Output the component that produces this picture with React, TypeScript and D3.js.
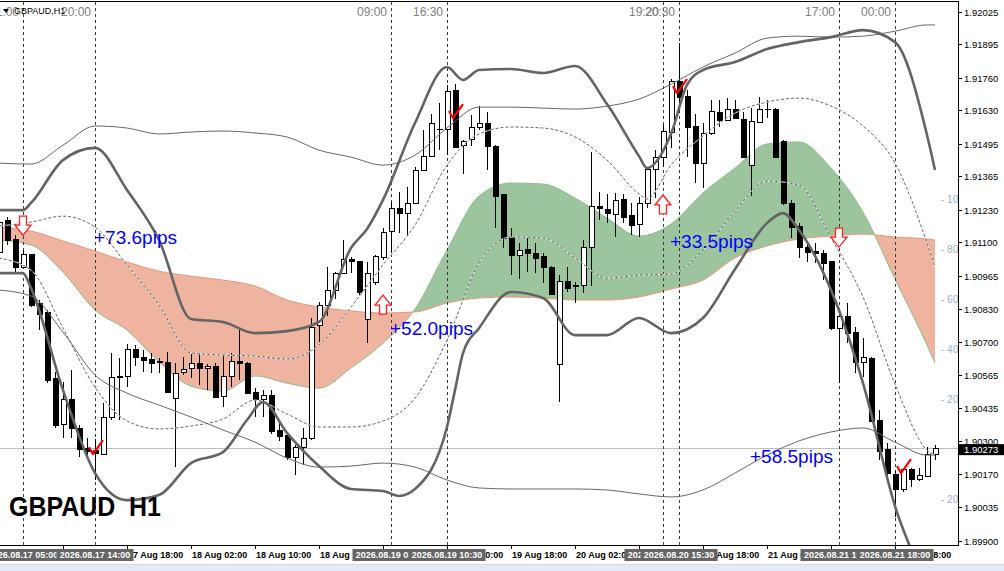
import React, { useEffect, useRef } from 'react';
import * as d3 from 'd3';

// GBPAUD H1 candles, bar 0 = 2026.08.17 02:00
const OPEN = [
  1.91057, 1.91189, 1.91113, 1.91000, 1.91049, 1.90856, 1.90816, 1.90551, 1.90366, 1.90470,
  1.90350, 1.90273, 1.90265, 1.90249, 1.90398, 1.90555, 1.90559, 1.90671, 1.90639, 1.90631,
  1.90619, 1.90619, 1.90474, 1.90575, 1.90591, 1.90615, 1.90591, 1.90599, 1.90482, 1.90559,
  1.90623, 1.90615, 1.90498, 1.90470, 1.90486, 1.90342, 1.90322, 1.90237, 1.90277, 1.90310,
  1.90764, 1.90844, 1.90908, 1.90976, 1.91029, 1.91021, 1.90788, 1.90940, 1.91037, 1.91145,
  1.91237, 1.91217, 1.91257, 1.91390, 1.91446, 1.91555, 1.91551, 1.91711, 1.91490, 1.91511,
  1.91563, 1.91579, 1.91486, 1.91290, 1.91121, 1.91045, 1.91069, 1.91053, 1.91041, 1.91000,
  1.90607, 1.90944, 1.90924, 1.90928, 1.91081, 1.91245, 1.91233, 1.91213, 1.91270, 1.91209,
  1.91173, 1.91257, 1.91394, 1.91442, 1.91539, 1.91744, 1.91687, 1.91567, 1.91418, 1.91535,
  1.91623, 1.91591, 1.91635, 1.91595, 1.91410, 1.91583, 1.91635, 1.91635, 1.91503, 1.91257,
  1.91165, 1.91077, 1.91061, 1.91053, 1.91021, 1.90755, 1.90800, 1.90739, 1.90619, 1.90635,
  1.90386, 1.90269, 1.90169, 1.90105, 1.90189, 1.90149, 1.90161, 1.90249,
];
const HIGH = [
  1.91209, 1.91201, 1.91129, 1.91069, 1.91053, 1.90868, 1.90828, 1.90579, 1.90538, 1.90587,
  1.90366, 1.90314, 1.90310, 1.90454, 1.90655, 1.90635, 1.90691, 1.90687, 1.90667, 1.90655,
  1.90635, 1.90659, 1.90615, 1.90639, 1.90651, 1.90655, 1.90611, 1.90615, 1.90647, 1.90655,
  1.90747, 1.90619, 1.90514, 1.90506, 1.90506, 1.90378, 1.90330, 1.90285, 1.90354, 1.90796,
  1.90860, 1.91000, 1.90980, 1.91109, 1.91041, 1.91025, 1.91021, 1.91049, 1.91157, 1.91262,
  1.91302, 1.91322, 1.91402, 1.91551, 1.91615, 1.91659, 1.91731, 1.91735, 1.91511, 1.91611,
  1.91647, 1.91623, 1.91490, 1.91294, 1.91157, 1.91097, 1.91117, 1.91097, 1.91057, 1.91004,
  1.90968, 1.91000, 1.90940, 1.91109, 1.91462, 1.91302, 1.91294, 1.91298, 1.91294, 1.91257,
  1.91282, 1.91402, 1.91470, 1.91571, 1.91756, 1.91900, 1.91711, 1.91615, 1.91579, 1.91671,
  1.91671, 1.91679, 1.91671, 1.91623, 1.91639, 1.91683, 1.91671, 1.91639, 1.91511, 1.91270,
  1.91177, 1.91101, 1.91097, 1.91069, 1.91025, 1.90804, 1.90856, 1.90759, 1.90715, 1.90639,
  1.90426, 1.90293, 1.90185, 1.90193, 1.90193, 1.90193, 1.90277, 1.90285,
];
const LOW = [
  1.91049, 1.91089, 1.90972, 1.90996, 1.90840, 1.90747, 1.90534, 1.90354, 1.90314, 1.90314,
  1.90237, 1.90237, 1.90145, 1.90245, 1.90386, 1.90386, 1.90518, 1.90603, 1.90579, 1.90575,
  1.90575, 1.90494, 1.90197, 1.90567, 1.90555, 1.90526, 1.90506, 1.90474, 1.90438, 1.90518,
  1.90546, 1.90490, 1.90398, 1.90398, 1.90330, 1.90302, 1.90225, 1.90165, 1.90205, 1.90306,
  1.90699, 1.90804, 1.90872, 1.90972, 1.90976, 1.90888, 1.90695, 1.90928, 1.91029, 1.91057,
  1.91137, 1.91129, 1.91255, 1.91386, 1.91444, 1.91470, 1.91450, 1.91478, 1.91374, 1.91486,
  1.91551, 1.91390, 1.91157, 1.91077, 1.90968, 1.90952, 1.90980, 1.90976, 1.90936, 1.90888,
  1.90458, 1.90900, 1.90856, 1.90896, 1.90924, 1.91189, 1.91177, 1.91121, 1.91177, 1.91129,
  1.91121, 1.91237, 1.91278, 1.91402, 1.91478, 1.91619, 1.91442, 1.91338, 1.91318, 1.91531,
  1.91563, 1.91589, 1.91595, 1.91438, 1.91286, 1.91579, 1.91599, 1.91438, 1.91249, 1.91117,
  1.91037, 1.91021, 1.91016, 1.90948, 1.90747, 1.90534, 1.90695, 1.90575, 1.90559, 1.90378,
  1.90225, 1.90145, 1.89996, 1.90097, 1.90117, 1.90141, 1.90157, 1.90225,
];
const CLOSE = [
  1.91181, 1.91109, 1.91000, 1.91049, 1.90848, 1.90808, 1.90546, 1.90362, 1.90470, 1.90350,
  1.90269, 1.90261, 1.90253, 1.90398, 1.90555, 1.90559, 1.90671, 1.90639, 1.90627, 1.90615,
  1.90621, 1.90498, 1.90571, 1.90587, 1.90615, 1.90591, 1.90599, 1.90478, 1.90559, 1.90623,
  1.90615, 1.90494, 1.90470, 1.90486, 1.90338, 1.90318, 1.90237, 1.90277, 1.90310, 1.90759,
  1.90844, 1.90908, 1.90976, 1.91029, 1.91021, 1.90900, 1.90976, 1.91041, 1.91141, 1.91237,
  1.91217, 1.91257, 1.91390, 1.91446, 1.91579, 1.91551, 1.91707, 1.91482, 1.91506, 1.91563,
  1.91579, 1.91486, 1.91282, 1.91117, 1.91045, 1.91065, 1.91053, 1.91033, 1.91000, 1.90892,
  1.90944, 1.90916, 1.90925, 1.91081, 1.91245, 1.91237, 1.91217, 1.91266, 1.91201, 1.91169,
  1.91257, 1.91394, 1.91442, 1.91543, 1.91744, 1.91683, 1.91563, 1.91418, 1.91535, 1.91627,
  1.91591, 1.91635, 1.91599, 1.91442, 1.91587, 1.91635, 1.91633, 1.91442, 1.91257, 1.91161,
  1.91077, 1.91057, 1.91053, 1.91016, 1.90755, 1.90800, 1.90735, 1.90619, 1.90639, 1.90382,
  1.90261, 1.90173, 1.90105, 1.90189, 1.90149, 1.90165, 1.90249, 1.90273,
];
const LAST_PRICE = 1.90273;

// cloud edges (bars every 4 hours)
const CLOUD_BARS = [0, 4, 8, 12, 16, 20, 24, 28, 32, 36, 40, 44, 48, 52, 56, 60, 64, 68, 72, 76, 80, 84, 88, 92, 96, 100, 104, 108, 112, 116, 117];
const SPAN_A = [
  1.91109, 1.91089, 1.90980, 1.90828, 1.90747, 1.90619, 1.90522, 1.90502, 1.90563, 1.90534,
  1.90514, 1.90595, 1.90695, 1.90832, 1.91069, 1.91286, 1.91338, 1.91334, 1.91278, 1.91197,
  1.91125, 1.91173, 1.91298, 1.91398, 1.91495, 1.91503, 1.91398, 1.91221, 1.90952, 1.90687, 1.90615,
];
const SPAN_B = [
  1.91161, 1.91145, 1.91105, 1.91065, 1.91021, 1.90984, 1.90964, 1.90948, 1.90924, 1.90868,
  1.90840, 1.90824, 1.90816, 1.90820, 1.90856, 1.90876, 1.90880, 1.90876, 1.90868, 1.90868,
  1.90880, 1.90912, 1.90948, 1.91037, 1.91085, 1.91113, 1.91125, 1.91133, 1.91121, 1.91113, 1.91109,
];

// bands [bar, price]
const THICK_UPPER: [number, number][] = [
  [0, 1.91229], [3, 1.91229], [4, 1.91258], [8, 1.9143], [12, 1.91479], [16, 1.9131], [20, 1.91109],
  [24, 1.90792], [28, 1.9078], [32, 1.90735], [36, 1.90743], [40, 1.9078], [44, 1.91077], [46, 1.91153],
  [48, 1.9127], [52, 1.91579], [56, 1.91804], [58, 1.91752], [60, 1.91792], [64, 1.91796], [68, 1.9178],
  [72, 1.91808], [76, 1.91655], [80, 1.91446], [81, 1.91398], [84, 1.91535], [86, 1.91732], [88, 1.91792],
  [92, 1.91824], [96, 1.91876], [100, 1.91904], [104, 1.91924], [108, 1.91952], [112, 1.91904],
  [116, 1.91531], [117, 1.9139],
];
const THICK_LOWER: [number, number][] = [
  [0, 1.90976], [3, 1.90976], [4, 1.90916], [8, 1.90506], [12, 1.90173], [16, 1.90064], [20, 1.90085],
  [24, 1.90213], [28, 1.90257], [31, 1.90386], [33, 1.90458], [36, 1.90334], [40, 1.90201], [44, 1.90109],
  [48, 1.90101], [50, 1.90081], [52, 1.90109], [56, 1.90358], [57, 1.90506], [58, 1.90655], [60, 1.90755],
  [64, 1.909], [68, 1.90876], [72, 1.90727], [76, 1.90727], [80, 1.90796], [84, 1.90735], [88, 1.90796],
  [92, 1.90992], [96, 1.91177], [98, 1.91217], [100, 1.91149], [104, 1.90908], [108, 1.90534],
  [112, 1.9004], [116, 1.89703], [117, 1.89603],
];
const THIN_UPPER: [number, number][] = [
  [0, 1.91418], [4, 1.91414], [8, 1.9149], [12, 1.91567], [16, 1.91559], [20, 1.91535], [24, 1.91543],
  [28, 1.91547], [32, 1.91539], [36, 1.91523], [40, 1.9147], [44, 1.91442], [48, 1.9141], [52, 1.9145],
  [56, 1.91559], [60, 1.91643], [64, 1.91643], [68, 1.91639], [72, 1.91635], [76, 1.91647], [80, 1.91675],
  [84, 1.91735], [88, 1.91804], [92, 1.9186], [96, 1.9192], [100, 1.91928], [104, 1.91924], [108, 1.91928],
  [112, 1.91948], [116, 1.91973], [117, 1.91973],
];
const THIN_LOWER: [number, number][] = [
  [0, 1.90908], [4, 1.90884], [8, 1.90739], [12, 1.90567], [16, 1.90494], [20, 1.90446], [24, 1.90398],
  [28, 1.90346], [32, 1.90297], [36, 1.90233], [40, 1.90197], [44, 1.90201], [48, 1.90213], [52, 1.90197],
  [56, 1.90145], [60, 1.90113], [64, 1.90109], [68, 1.90109], [72, 1.90109], [76, 1.90105], [80, 1.90089],
  [84, 1.90077], [88, 1.90105], [92, 1.90173], [96, 1.90245], [100, 1.90302], [104, 1.90338], [108, 1.90354],
  [112, 1.90297], [116, 1.90245], [117, 1.90245],
];
const DASH_UPPER: [number, number][] = [
  [0, 1.91165], [4, 1.91181], [8, 1.91205], [12, 1.91161], [16, 1.91009], [20, 1.90848], [24, 1.90655],
  [28, 1.90647], [32, 1.90643], [36, 1.90631], [40, 1.90687], [44, 1.9084], [48, 1.91009], [52, 1.91169],
  [56, 1.9141], [60, 1.91535], [64, 1.91563], [68, 1.91559], [72, 1.91523], [76, 1.9143], [80, 1.91294],
  [81, 1.91274], [84, 1.9141], [88, 1.91527], [92, 1.91619], [96, 1.91663], [100, 1.91679], [104, 1.91647],
  [108, 1.91567], [112, 1.91418], [116, 1.91097], [117, 1.91],
];
const DASH_LOWER: [number, number][] = [
  [0, 1.91037], [4, 1.90988], [8, 1.90755], [12, 1.90518], [16, 1.90382], [20, 1.9035], [24, 1.90362],
  [28, 1.9039], [32, 1.90466], [36, 1.9041], [40, 1.90358], [44, 1.90358], [48, 1.90382], [52, 1.90474],
  [56, 1.90707], [60, 1.91016], [64, 1.91121], [68, 1.91117], [72, 1.91037], [76, 1.90956], [80, 1.90968],
  [84, 1.90972], [88, 1.91069], [92, 1.91225], [96, 1.91346], [100, 1.9133], [104, 1.91117], [108, 1.9088],
  [112, 1.9053], [116, 1.90265], [117, 1.90245],
];

// signals
const DOWN_ARROW_BARS = [3, 105];
const DOWN_ARROW_PRICES = [1.91205, 1.91157];
const UP_ARROW_BARS = [48, 83];
const UP_ARROW_PRICES = [1.90888, 1.9129];
const CHECK_BARS = [12, 57, 85, 113];
const CHECK_PRICES = [1.90249, 1.91599, 1.91699, 1.90173];
const PIPS_TEXT = ['+73.6pips', '+52.0pips', '+33.5pips', '+58.5pips'];
const PIPS_BARS = [12, 49, 84, 94];
const PIPS_PRICES = [1.91093, 1.90727, 1.91077, 1.90213];

// vertical time lines
const VLINE_BARS = [3, 12, 49, 56, 83, 85, 105, 112];
const VLINE_DATES = [
  '2026.08.17 05:00', '2026.08.17 14:00', '2026.08.19 03:00', '2026.08.19 10:30',
  '2026.08.20 13:00', '2026.08.20 15:30', '2026.08.21 11:00', '2026.08.21 18:00',
];
const VLINE_TIMES = ['11:00', '20:00', '09:00', '16:30', '19:20', '20:30', '17:00', '00:00'];

// axes
const PRICE_TICKS = [
  1.92025, 1.91895, 1.9176, 1.9163, 1.91495, 1.91365, 1.9123, 1.911, 1.90965,
  1.9083, 1.907, 1.90565, 1.90435, 1.903, 1.9017, 1.90035, 1.899,
];
const TIME_LABEL_BARS = [0, 8, 16, 24, 32, 40, 48, 56, 64, 72, 80, 88, 96, 104, 112];
const TIME_LABELS = [
  '17 Aug 02:00', '17 Aug 10:00', '17 Aug 18:00', '18 Aug 02:00', '18 Aug 10:00', '18 Aug 18:00',
  '19 Aug 02:00', '19 Aug 10:00', '19 Aug 18:00', '20 Aug 02:00', '20 Aug 10:00', '20 Aug 18:00',
  '21 Aug 02:00', '21 Aug 10:00', '21 Aug 18:00',
];
const LEVELS = [100, 80, 60, 40, 20, -20, -40];

const FONT = 'Liberation Sans, Arial, sans-serif';

const Chart: React.FC = () => {
  const ref = useRef<SVGSVGElement>(null);

  useEffect(() => {
    const width = 1004;
    const height = 571;
    const plotRight = 958;
    const plotTop = 2;
    const plotBottom = 545;

    const svg = d3.select(ref.current);
    svg.selectAll('*').remove();

    const x = d3.scaleLinear().domain([0, 117]).range([-1, 935]);
    const y = d3.scaleLinear().domain([1.899, 1.92025]).range([541, 12]);
    const lvl = d3.scaleLinear().domain([-40, 100]).range([549, 199]);

    svg.append('rect').attr('width', width).attr('height', height).attr('fill', '#fff');

    const defs = svg.append('defs');
    defs
      .append('clipPath')
      .attr('id', 'plot-clip')
      .append('rect')
      .attr('x', 0)
      .attr('y', plotTop)
      .attr('width', plotRight)
      .attr('height', plotBottom - plotTop);

    const cloud = CLOUD_BARS.map((b, i) => ({ b, a: SPAN_A[i], s: SPAN_B[i] }));
    const aboveB = d3
      .area<{ b: number; a: number; s: number }>()
      .x((d) => x(d.b))
      .y0(0)
      .y1((d) => y(d.s))
      .curve(d3.curveMonotoneX);
    const belowB = d3
      .area<{ b: number; a: number; s: number }>()
      .x((d) => x(d.b))
      .y0((d) => y(d.s))
      .y1(700)
      .curve(d3.curveMonotoneX);
    defs.append('clipPath').attr('id', 'above-b').append('path').attr('d', aboveB(cloud)!);
    defs.append('clipPath').attr('id', 'below-b').append('path').attr('d', belowB(cloud)!);

    const plot = svg.append('g').attr('clip-path', 'url(#plot-clip)');

    // cloud
    const between = d3
      .area<{ b: number; a: number; s: number }>()
      .x((d) => x(d.b))
      .y0((d) => y(d.a))
      .y1((d) => y(d.s))
      .curve(d3.curveMonotoneX);
    plot
      .append('g')
      .attr('clip-path', 'url(#above-b)')
      .append('path')
      .attr('d', between(cloud)!)
      .attr('fill', '#9dc59d');
    plot
      .append('g')
      .attr('clip-path', 'url(#below-b)')
      .append('path')
      .attr('d', between(cloud)!)
      .attr('fill', '#eeb4a0');

    const edge = d3
      .line<number>()
      .x((_d, i) => x(CLOUD_BARS[i]))
      .y((d) => y(d))
      .curve(d3.curveMonotoneX);
    plot.append('path').attr('d', edge(SPAN_B)!).attr('fill', 'none').attr('stroke', '#e9967a').attr('stroke-width', 1);
    plot.append('path').attr('d', edge(SPAN_A)!).attr('fill', 'none').attr('stroke', '#8fbc8f').attr('stroke-width', 1);

    // last price line
    plot
      .append('line')
      .attr('x1', 0)
      .attr('x2', plotRight)
      .attr('y1', Math.round(y(LAST_PRICE)) + 0.5)
      .attr('y2', Math.round(y(LAST_PRICE)) + 0.5)
      .attr('stroke', '#bdbdbd');

    // vertical lines
    VLINE_BARS.forEach((b) => {
      const vx = Math.round(x(b)) + 0.5;
      plot
        .append('line')
        .attr('x1', vx)
        .attr('x2', vx)
        .attr('y1', plotTop)
        .attr('y2', plotBottom)
        .attr('stroke', '#3c3c3c')
        .attr('stroke-dasharray', '3,3');
    });

    // candles
    const cg = plot.append('g').attr('shape-rendering', 'crispEdges');
    OPEN.forEach((o, i) => {
      const c = CLOSE[i];
      const cx = Math.round(x(i)) + 0.5;
      cg.append('line')
        .attr('x1', cx)
        .attr('x2', cx)
        .attr('y1', y(HIGH[i]))
        .attr('y2', y(LOW[i]))
        .attr('stroke', '#000');
      const top = y(Math.max(o, c));
      const bot = y(Math.min(o, c));
      cg.append('rect')
        .attr('x', cx - 2.5)
        .attr('y', top)
        .attr('width', 5)
        .attr('height', Math.max(bot - top, 0.5))
        .attr('fill', c >= o ? '#fff' : '#000')
        .attr('stroke', '#000');
    });

    // bands
    const band = d3
      .line<[number, number]>()
      .x((d) => x(d[0]))
      .y((d) => y(d[1]))
      .curve(d3.curveMonotoneX);
    [DASH_UPPER, DASH_LOWER].forEach((pts) => {
      plot.append('path').attr('d', band(pts)!).attr('fill', 'none').attr('stroke', '#fff').attr('stroke-width', 1);
      plot
        .append('path')
        .attr('d', band(pts)!)
        .attr('fill', 'none')
        .attr('stroke', '#666')
        .attr('stroke-width', 1)
        .attr('stroke-dasharray', '3,2');
    });
    [THIN_UPPER, THIN_LOWER].forEach((pts) => {
      plot.append('path').attr('d', band(pts)!).attr('fill', 'none').attr('stroke', '#6a6a6a').attr('stroke-width', 1);
    });
    [THICK_UPPER, THICK_LOWER].forEach((pts) => {
      plot.append('path').attr('d', band(pts)!).attr('fill', 'none').attr('stroke', '#646464').attr('stroke-width', 2.6);
    });

    // indicator scale labels
    plot
      .selectAll('text.lvl')
      .data(LEVELS)
      .enter()
      .append('text')
      .attr('class', 'lvl')
      .attr('x', 941)
      .attr('y', (d) => lvl(d))
      .attr('dy', '0.35em')
      .attr('font-family', FONT)
      .attr('font-size', 10)
      .attr('fill', '#9db1c9')
      .text((d) => `- ${Math.abs(d)}`);

    // arrows
    DOWN_ARROW_BARS.forEach((b, i) => {
      const cx = x(b);
      const ty = y(DOWN_ARROW_PRICES[i]);
      plot
        .append('path')
        .attr(
          'd',
          `M${cx - 3.5},${ty} L${cx + 3.5},${ty} L${cx + 3.5},${ty + 9} L${cx + 8},${ty + 9} L${cx},${ty + 19} L${cx - 8},${ty + 9} L${cx - 3.5},${ty + 9} Z`
        )
        .attr('fill', '#fff')
        .attr('stroke', '#ff2020')
        .attr('stroke-width', 1.3);
    });
    UP_ARROW_BARS.forEach((b, i) => {
      const cx = x(b);
      const ty = y(UP_ARROW_PRICES[i]);
      plot
        .append('path')
        .attr(
          'd',
          `M${cx},${ty} L${cx + 8},${ty + 10} L${cx + 3.5},${ty + 10} L${cx + 3.5},${ty + 19} L${cx - 3.5},${ty + 19} L${cx - 3.5},${ty + 10} L${cx - 8},${ty + 10} Z`
        )
        .attr('fill', '#fff')
        .attr('stroke', '#ff2020')
        .attr('stroke-width', 1.3);
    });

    // check marks
    CHECK_BARS.forEach((b, i) => {
      const tx = x(b) - 2;
      const ty = y(CHECK_PRICES[i]);
      plot
        .append('path')
        .attr('d', `M${tx - 4},${ty - 7} L${tx},${ty} L${tx + 10},${ty - 14}`)
        .attr('fill', 'none')
        .attr('stroke', '#ff0000')
        .attr('stroke-width', 2.2)
        .attr('stroke-linejoin', 'round');
    });

    // pips labels
    PIPS_TEXT.forEach((t, i) => {
      plot
        .append('text')
        .attr('x', x(PIPS_BARS[i]) - 1)
        .attr('y', y(PIPS_PRICES[i]))
        .attr('font-family', FONT)
        .attr('font-size', 19)
        .attr('fill', '#0000ff')
        .attr('textLength', 83)
        .attr('lengthAdjust', 'spacingAndGlyphs')
        .text(t);
    });

    // time labels on top of vertical lines
    VLINE_BARS.forEach((b, i) => {
      plot
        .append('text')
        .attr('x', x(b) - 4)
        .attr('y', 16)
        .attr('text-anchor', 'end')
        .attr('font-family', FONT)
        .attr('font-size', 12)
        .attr('fill', '#808080')
        .text(VLINE_TIMES[i]);
    });

    // symbol header
    svg.append('path').attr('d', 'M3,9 L9,9 L6,13 Z').attr('fill', '#000');
    svg
      .append('text')
      .attr('x', 14)
      .attr('y', 14)
      .attr('font-family', FONT)
      .attr('font-size', 9)
      .attr('fill', '#000')
      .text('GBPAUD,H1');

    svg
      .append('text')
      .attr('x', 9)
      .attr('y', 516)
      .attr('font-family', FONT)
      .attr('font-weight', 'bold')
      .attr('font-size', 27)
      .attr('fill', '#000')
      .attr('textLength', 152)
      .attr('lengthAdjust', 'spacingAndGlyphs')
      .style('white-space', 'pre')
      .text('GBPAUD  H1');

    // frame
    svg
      .append('line')
      .attr('x1', 0)
      .attr('x2', plotRight + 0.5)
      .attr('y1', 1.5)
      .attr('y2', 1.5)
      .attr('stroke', '#000');
    svg
      .append('line')
      .attr('x1', plotRight + 0.5)
      .attr('x2', plotRight + 0.5)
      .attr('y1', 1)
      .attr('y2', plotBottom + 1)
      .attr('stroke', '#000');
    svg
      .append('line')
      .attr('x1', 0)
      .attr('x2', plotRight + 0.5)
      .attr('y1', plotBottom + 0.5)
      .attr('y2', plotBottom + 0.5)
      .attr('stroke', '#000');

    // price axis
    const pa = svg.append('g');
    PRICE_TICKS.forEach((p) => {
      const ty = Math.round(y(p)) + 0.5;
      pa.append('line').attr('x1', plotRight).attr('x2', plotRight + 4).attr('y1', ty).attr('y2', ty).attr('stroke', '#000');
      pa.append('text')
        .attr('x', 964)
        .attr('y', ty)
        .attr('dy', '0.38em')
        .attr('font-family', FONT)
        .attr('font-size', 9.5)
        .attr('fill', '#000')
        .text(p.toFixed(5));
    });
    const ly = y(LAST_PRICE);
    pa.append('rect')
      .attr('x', plotRight + 1)
      .attr('y', ly - 4)
      .attr('width', width - plotRight - 1)
      .attr('height', 11)
      .attr('fill', '#000');
    pa.append('text')
      .attr('x', 964)
      .attr('y', ly + 5)
      .attr('font-family', FONT)
      .attr('font-size', 9.5)
      .attr('fill', '#fff')
      .text(LAST_PRICE.toFixed(5));

    // time axis
    const ta = svg.append('g');
    TIME_LABEL_BARS.forEach((b, i) => {
      const tx = Math.round(x(b)) + 0.5;
      ta.append('line').attr('x1', tx).attr('x2', tx).attr('y1', plotBottom).attr('y2', plotBottom + 4).attr('stroke', '#000');
      ta.append('text')
        .attr('x', tx + 0.5)
        .attr('y', 558)
        .attr('font-family', FONT)
        .attr('font-size', 9)
        .attr('font-weight', 'bold')
        .attr('fill', '#000')
        .text(TIME_LABELS[i]);
    });
    VLINE_BARS.forEach((b, i) => {
      const cx = x(b);
      ta.append('rect')
        .attr('x', cx - 38.5)
        .attr('y', 549)
        .attr('width', 77)
        .attr('height', 12)
        .attr('fill', '#646464');
      ta.append('text')
        .attr('x', cx)
        .attr('y', 558)
        .attr('text-anchor', 'middle')
        .attr('font-family', FONT)
        .attr('font-size', 9)
        .attr('font-weight', 'bold')
        .attr('fill', '#fff')
        .text(VLINE_DATES[i]);
    });

    // window strip
    svg.append('rect').attr('x', 0).attr('y', 565).attr('width', width).attr('height', 6).attr('fill', '#e4ebf4');
    svg.append('line').attr('x1', 0).attr('x2', width).attr('y1', 564.5).attr('y2', 564.5).attr('stroke', '#d3dae5');

    return () => {
      svg.selectAll('*').remove();
    };
  }, []);

  return (
    <svg
      ref={ref}
      width={1004}
      height={571}
      style={{ position: 'absolute', left: 0, top: 0, display: 'block' }}
    ></svg>
  );
};

export default function App() {
  return <Chart />;
}
